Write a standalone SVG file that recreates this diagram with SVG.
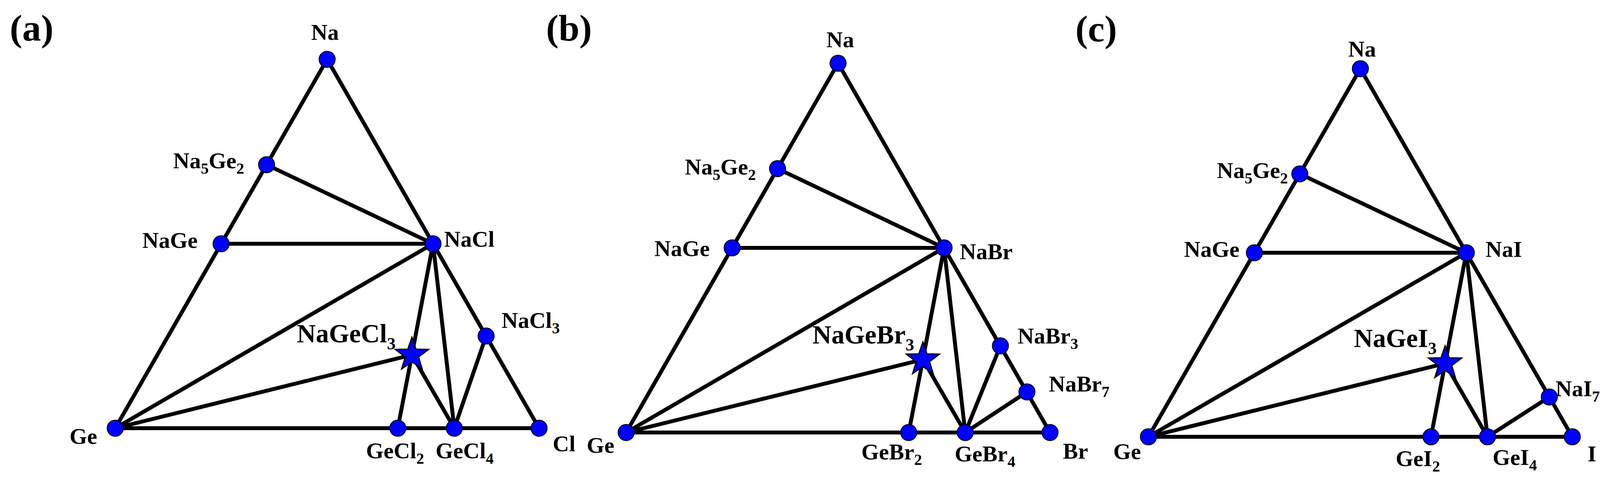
<svg xmlns="http://www.w3.org/2000/svg" xmlns:xlink="http://www.w3.org/1999/xlink" width="4135" height="1222" viewBox="0 0 4135 1222">
<style>
.bg{fill:#ffffff}
.edge{stroke:#000;stroke-width:10;stroke-linecap:round;fill:none}
.dot{fill:#0000ff;stroke:#000022;stroke-width:2.5}
.star{fill:#0000ff;stroke:#000;stroke-width:3;stroke-linejoin:miter}
.lbl{font-family:"Liberation Serif","Times New Roman",serif;font-weight:bold;font-size:58px;fill:#000}
.big{font-size:67px}
.sub{font-size:40px}
.bsub{font-size:44px}
.panel{font-family:"Liberation Serif","Times New Roman",serif;font-weight:bold;font-size:96px;fill:#000}
</style>
<defs>
<path id="starShape" class="star" d="M0,-45 L10.58,-14.56 L42.8,-13.91 L17.12,5.56 L26.45,36.41 L0,18 L-26.45,36.41 L-17.12,5.56 L-42.8,-13.91 L-10.58,-14.56 Z"/>
</defs>
<rect class="bg" x="0" y="0" width="4135" height="1222"/>

<g id="connectors">
<!-- panel a -->
<line class="edge" x1="837.5" y1="152" x2="295" y2="1097"/>
<line class="edge" x1="837.5" y1="152" x2="1380" y2="1097"/>
<line class="edge" x1="295" y1="1097" x2="1380" y2="1097"/>
<line class="edge" x1="682.5" y1="422" x2="1108.5" y2="624.5"/>
<line class="edge" x1="566" y1="624.5" x2="1108.5" y2="624.5"/>
<line class="edge" x1="295" y1="1097" x2="1108.5" y2="624.5"/>
<line class="edge" x1="295" y1="1097" x2="1054.5" y2="909"/>
<line class="edge" x1="1108.5" y1="624.5" x2="1054.5" y2="909"/>
<line class="edge" x1="1054.5" y1="909" x2="1018.3" y2="1097"/>
<line class="edge" x1="1054.5" y1="909" x2="1163" y2="1097"/>
<line class="edge" x1="1108.5" y1="624.5" x2="1163" y2="1097"/>
<line class="edge" x1="1244.4" y1="860.8" x2="1163" y2="1097"/>
<!-- panel b -->
<line class="edge" x1="2145.5" y1="162" x2="1603" y2="1108"/>
<line class="edge" x1="2145.5" y1="162" x2="2688" y2="1108"/>
<line class="edge" x1="1603" y1="1108" x2="2688" y2="1108"/>
<line class="edge" x1="1990.5" y1="432" x2="2416.8" y2="635"/>
<line class="edge" x1="1874.3" y1="635" x2="2416.8" y2="635"/>
<line class="edge" x1="1603" y1="1108" x2="2416.8" y2="635"/>
<line class="edge" x1="1603" y1="1108" x2="2362.6" y2="921"/>
<line class="edge" x1="2416.8" y1="635" x2="2362.6" y2="921"/>
<line class="edge" x1="2362.6" y1="921" x2="2326.3" y2="1108"/>
<line class="edge" x1="2362.6" y1="921" x2="2471" y2="1108"/>
<line class="edge" x1="2416.8" y1="635" x2="2471" y2="1108"/>
<line class="edge" x1="2561" y1="886" x2="2471" y2="1108"/>
<line class="edge" x1="2629" y1="1004" x2="2471" y2="1108"/>
<!-- panel c -->
<line class="edge" x1="3482.5" y1="176" x2="2940" y2="1119"/>
<line class="edge" x1="3482.5" y1="176" x2="4025" y2="1119"/>
<line class="edge" x1="2940" y1="1119" x2="4025" y2="1119"/>
<line class="edge" x1="3327.5" y1="445.4" x2="3753.8" y2="647.5"/>
<line class="edge" x1="3211.3" y1="647.5" x2="3753.8" y2="647.5"/>
<line class="edge" x1="2940" y1="1119" x2="3753.8" y2="647.5"/>
<line class="edge" x1="2940" y1="1119" x2="3699.5" y2="931"/>
<line class="edge" x1="3753.8" y1="647.5" x2="3699.5" y2="931"/>
<line class="edge" x1="3699.5" y1="931" x2="3663.3" y2="1119"/>
<line class="edge" x1="3699.5" y1="931" x2="3808" y2="1119"/>
<line class="edge" x1="3753.8" y1="647.5" x2="3808" y2="1119"/>
<line class="edge" x1="3966.3" y1="1017" x2="3808" y2="1119"/>
</g>

<!-- panel labels -->
<text id="label-a" class="panel" x="25" y="104">(a)</text>
<text id="label-b" class="panel" x="1398" y="104">(b)</text>
<text id="label-c" class="panel" x="2753" y="106">(c)</text>

<!-- panel a nodes -->
<g id="a-Na"><circle class="dot" cx="837.5" cy="152" r="20.5"/><text class="lbl" x="832" y="102" text-anchor="middle">Na</text></g>
<g id="a-Na5Ge2"><circle class="dot" cx="682.5" cy="422" r="20.5"/><text class="lbl" x="625" y="431" text-anchor="end">Na<tspan class="sub" dy="14">5</tspan><tspan dy="-14">Ge</tspan><tspan class="sub" dy="14">2</tspan></text></g>
<g id="a-NaGe"><circle class="dot" cx="566" cy="624.5" r="20.5"/><text class="lbl" x="506" y="635" text-anchor="end">NaGe</text></g>
<g id="a-NaCl"><circle class="dot" cx="1108.5" cy="624.5" r="20.5"/><text class="lbl" x="1137" y="632">NaCl</text></g>
<g id="a-NaCl3"><circle class="dot" cx="1244.4" cy="860.8" r="20.5"/><text class="lbl" x="1284" y="840">NaCl<tspan class="sub" dy="14">3</tspan></text></g>
<g id="a-NaGeCl3"><use xlink:href="#starShape" href="#starShape" x="1054.5" y="909"/><text class="lbl big" x="760" y="877">NaGeCl<tspan class="bsub" dy="18">3</tspan></text></g>
<g id="a-Ge"><circle class="dot" cx="295" cy="1097" r="20.5"/><text class="lbl" x="178" y="1137">Ge</text></g>
<g id="a-GeCl2"><circle class="dot" cx="1018.3" cy="1097" r="20.5"/><text class="lbl" x="937" y="1174">GeCl<tspan class="sub" dy="14">2</tspan></text></g>
<g id="a-GeCl4"><circle class="dot" cx="1163" cy="1097" r="20.5"/><text class="lbl" x="1115" y="1174">GeCl<tspan class="sub" dy="14">4</tspan></text></g>
<g id="a-Cl"><circle class="dot" cx="1380" cy="1097" r="20.5"/><text class="lbl" x="1415" y="1156">Cl</text></g>

<!-- panel b nodes -->
<g id="b-Na"><circle class="dot" cx="2145.5" cy="162" r="20.5"/><text class="lbl" x="2151" y="121" text-anchor="middle">Na</text></g>
<g id="b-Na5Ge2"><circle class="dot" cx="1990.5" cy="432" r="20.5"/><text class="lbl" x="1935" y="447" text-anchor="end">Na<tspan class="sub" dy="14">5</tspan><tspan dy="-14">Ge</tspan><tspan class="sub" dy="14">2</tspan></text></g>
<g id="b-NaGe"><circle class="dot" cx="1874.3" cy="635" r="20.5"/><text class="lbl" x="1817" y="656" text-anchor="end">NaGe</text></g>
<g id="b-NaBr"><circle class="dot" cx="2416.8" cy="635" r="20.5"/><text class="lbl" x="2457" y="664">NaBr</text></g>
<g id="b-NaBr3"><circle class="dot" cx="2561" cy="886" r="20.5"/><text class="lbl" x="2605" y="880">NaBr<tspan class="sub" dy="14">3</tspan></text></g>
<g id="b-NaBr7"><circle class="dot" cx="2629" cy="1004" r="20.5"/><text class="lbl" x="2685" y="1003">NaBr<tspan class="sub" dy="14">7</tspan></text></g>
<g id="b-NaGeBr3"><use xlink:href="#starShape" href="#starShape" x="2362.6" y="921"/><text class="lbl big" x="2080" y="880">NaGeBr<tspan class="bsub" dy="18">3</tspan></text></g>
<g id="b-Ge"><circle class="dot" cx="1603" cy="1108" r="20.5"/><text class="lbl" x="1502" y="1160">Ge</text></g>
<g id="b-GeBr2"><circle class="dot" cx="2326.3" cy="1108" r="20.5"/><text class="lbl" x="2205" y="1177">GeBr<tspan class="sub" dy="14">2</tspan></text></g>
<g id="b-GeBr4"><circle class="dot" cx="2471" cy="1108" r="20.5"/><text class="lbl" x="2444" y="1182">GeBr<tspan class="sub" dy="14">4</tspan></text></g>
<g id="b-Br"><circle class="dot" cx="2688" cy="1108" r="20.5"/><text class="lbl" x="2721" y="1175">Br</text></g>

<!-- panel c nodes -->
<g id="c-Na"><circle class="dot" cx="3482.5" cy="176" r="20.5"/><text class="lbl" x="3487" y="145" text-anchor="middle">Na</text></g>
<g id="c-Na5Ge2"><circle class="dot" cx="3327.5" cy="445.4" r="20.5"/><text class="lbl" x="3297" y="456" text-anchor="end">Na<tspan class="sub" dy="14">5</tspan><tspan dy="-14">Ge</tspan><tspan class="sub" dy="14">2</tspan></text></g>
<g id="c-NaGe"><circle class="dot" cx="3211.3" cy="647.5" r="20.5"/><text class="lbl" x="3173" y="658" text-anchor="end">NaGe</text></g>
<g id="c-NaI"><circle class="dot" cx="3753.8" cy="647.5" r="20.5"/><text class="lbl" x="3803" y="658">NaI</text></g>
<g id="c-NaI7"><circle class="dot" cx="3966.3" cy="1017" r="20.5"/><text class="lbl" x="3982" y="1015">NaI<tspan class="sub" dy="14">7</tspan></text></g>
<g id="c-NaGeI3"><use xlink:href="#starShape" href="#starShape" x="3699.5" y="931"/><text class="lbl big" x="3466" y="889">NaGeI<tspan class="bsub" dy="18">3</tspan></text></g>
<g id="c-Ge"><circle class="dot" cx="2940" cy="1119" r="20.5"/><text class="lbl" x="2850" y="1176">Ge</text></g>
<g id="c-GeI2"><circle class="dot" cx="3663.3" cy="1119" r="20.5"/><text class="lbl" x="3573" y="1194">GeI<tspan class="sub" dy="14">2</tspan></text></g>
<g id="c-GeI4"><circle class="dot" cx="3808" cy="1119" r="20.5"/><text class="lbl" x="3821" y="1191">GeI<tspan class="sub" dy="14">4</tspan></text></g>
<g id="c-I"><circle class="dot" cx="4025" cy="1119" r="20.5"/><text class="lbl" x="4064" y="1182">I</text></g>
</svg>
